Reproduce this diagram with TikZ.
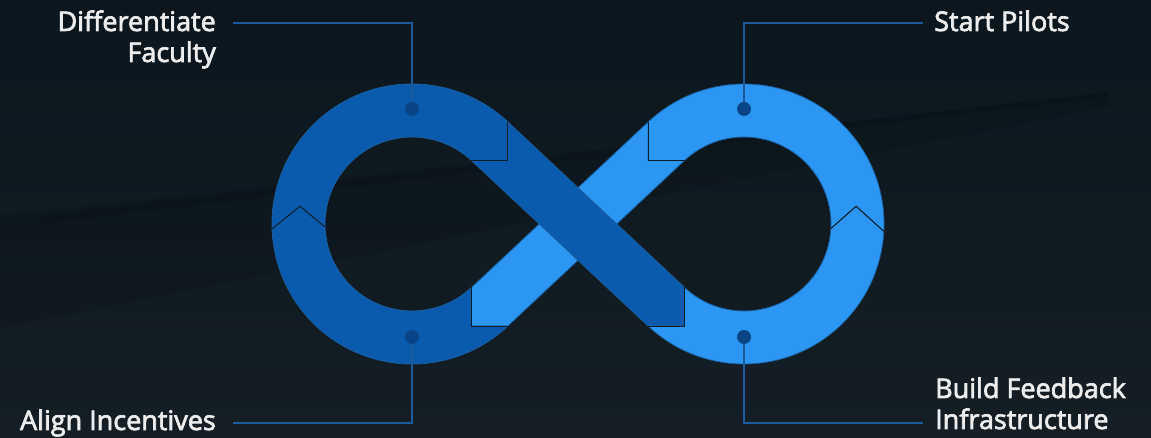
\documentclass[tikz,border=0pt]{standalone}
\usepackage{fontspec}
\newfontfamily\lblfont[FakeBold=2.6]{Open Sans}
\usetikzlibrary{calc}
\definecolor{bgtop}{HTML}{0B161E}
\definecolor{bgbot}{HTML}{141E24}
\definecolor{darkring}{HTML}{0A5BAE}
\definecolor{lightring}{HTML}{2C97F2}
\definecolor{dotc}{HTML}{094586}
\definecolor{linkc}{HTML}{1C5B9B}
\definecolor{edgec}{HTML}{1A5E9F}
\definecolor{jointc}{HTML}{0D1E2A}
\definecolor{txt}{HTML}{EDEDED}
\definecolor{wingc}{HTML}{070F14}
\begin{document}
\begin{tikzpicture}[x=1pt,y=1pt,
  darkseg/.style={fill=darkring,draw=edgec,line width=0.8pt},
  lightseg/.style={fill=lightring,draw=edgec,line width=0.8pt},
  joint/.style={draw=jointc,line width=1pt},
  dotnode/.style={circle,fill=dotc,draw=none,minimum size=14pt,inner sep=0pt},
  link/.style={draw=linkc,line width=2.6pt},
  lbl/.style={text=txt,inner sep=0pt,font=\lblfont\fontsize{27}{31}\selectfont}]
\useasboundingbox (0,0) rectangle (1151,438);
\shade[top color=bgtop,bottom color=bgbot] (0,0) rectangle (1151,438);
% faint aircraft wing in the background
\fill[wingc,opacity=0.2] (0,223) -- (1108,345) -- (1110,332) -- (0,110) -- cycle;
\fill[wingc,opacity=0.3] (40,223) -- (1108,346) -- (1108,341) -- (40,214) -- cycle;

\def\Ro{140}\def\Ri{87}\def\Rm{113.5}\def\ta{46.86}
\coordinate (L) at (412,214);
\coordinate (R) at (744,214);
\coordinate (A) at ($(L)+(\ta:\Ro)$);
\coordinate (B) at ($(L)+(\ta:\Ri)$);
\coordinate (C) at (A |- B);
\coordinate (D) at ($(R)+(226.86:\Ri)$);
\coordinate (E) at ($(R)+(226.86:\Ro)$);
\coordinate (K) at (D |- E);
\coordinate (F) at ($(R)+(133.14:\Ro)$);
\coordinate (G) at ($(R)+(133.14:\Ri)$);
\coordinate (M) at (F |- G);
\coordinate (H) at ($(L)+(313.14:\Ri)$);
\coordinate (I) at ($(L)+(313.14:\Ro)$);
\coordinate (N) at (H |- I);
\coordinate (P1o) at ($(L)+(182:\Ro)$);
\coordinate (P1i) at ($(L)+(182:\Ri)$);
\coordinate (P1p) at ($(L)+(171:\Rm)$);
\coordinate (P2o) at ($(R)+(-3:\Ro)$);
\coordinate (P2i) at ($(R)+(-3:\Ri)$);
\coordinate (P2p) at ($(R)+(9:\Rm)$);

% bands
\path[lightseg] (F) -- (M) -- (G) -- (I) -- (N) -- (H) -- cycle;
\path[darkseg] (A) -- (D) -- (K) -- (E) -- (B) -- (C) -- cycle;
% left ring
\path[darkseg] (P1o) arc[start angle=182,end angle=\ta,radius=\Ro] -- (C) -- (B)
   arc[start angle=\ta,end angle=182,radius=\Ri] -- (P1p) -- cycle;
\path[darkseg] (P1i) arc[start angle=182,end angle=313.14,radius=\Ri] -- (N) -- (I)
   arc[start angle=313.14,end angle=182,radius=\Ro] -- (P1p) -- cycle;
% right ring
\path[lightseg] (E) arc[start angle=226.86,end angle=357,radius=\Ro] -- (P2p) -- (P2i)
   arc[start angle=357,end angle=226.86,radius=\Ri] -- (K) -- cycle;
\path[lightseg] (P2o) arc[start angle=-3,end angle=133.14,radius=\Ro] -- (M) -- (G)
   arc[start angle=133.14,end angle=-3,radius=\Ri] -- (P2p) -- cycle;
% joints
\draw[joint] (A) -- (C) -- (B);
\draw[joint] (D) -- (K) -- (E);
\draw[joint] (F) -- (M) -- (G);
\draw[joint] (H) -- (N) -- (I);
\draw[joint] (P1o) -- (P1p) -- (P1i);
\draw[joint] (P2o) -- (P2p) -- (P2i);

% labels
\node[lbl,anchor=base east,align=right] (t1) at (216,376) {Differentiate\\Faculty};
\node[lbl,anchor=base west,align=left] (t2) at (934,407) {Start Pilots};
\node[lbl,anchor=base east,align=right] (t3) at (216,8) {Align Incentives};
\node[lbl,anchor=base west,align=left] (t4) at (935,9) {Build Feedback\\Infrastructure};

% connectors and dots
\coordinate (d1) at (412,329);
\coordinate (d2) at (744,329);
\coordinate (d3) at (412,101);
\coordinate (d4) at (744,101);
\coordinate (e1) at (233,415);
\coordinate (e2) at (923,415);
\coordinate (e3) at (233,15);
\coordinate (e4) at (923,15);
\draw[link] (e1) -| (d1);
\draw[link] (e2) -| (d2);
\draw[link] (e3) -| (d3);
\draw[link] (e4) -| (d4);
\node[dotnode] (n1) at (d1) {};
\node[dotnode] (n2) at (d2) {};
\node[dotnode] (n3) at (d3) {};
\node[dotnode] (n4) at (d4) {};
\end{tikzpicture}
\end{document}
